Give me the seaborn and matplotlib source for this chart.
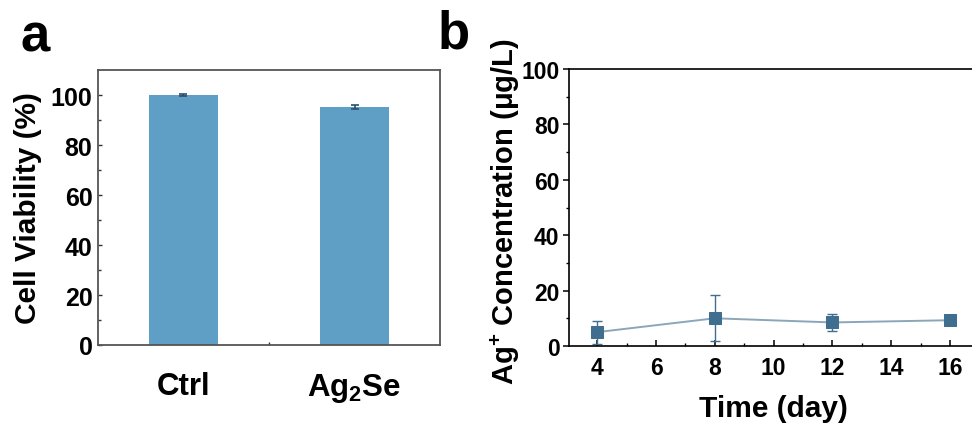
import matplotlib
matplotlib.use("Agg")
import matplotlib.pyplot as plt
import seaborn as sns
import pandas as pd
from matplotlib.ticker import MultipleLocator, FixedLocator

# ---- data ----
groups = ["Ctrl", "Ag$_2$Se"]
viability = [100.0, 95.2]
viability_err = [0.3, 0.8]

days = [4, 8, 12, 16]
ag_conc = [5.0, 10.0, 8.5, 9.3]
ag_err = [4.2, 8.3, 3.0, 0.5]

sns.set_theme(style="white")
plt.rcParams['font.family'] = ['Liberation Sans', 'DejaVu Sans']
plt.rcParams['font.weight'] = 'bold'
plt.rcParams['mathtext.fontset'] = 'custom'
plt.rcParams['mathtext.rm'] = 'Liberation Sans:bold'
plt.rcParams['mathtext.it'] = 'Liberation Sans:bold'
plt.rcParams['mathtext.bf'] = 'Liberation Sans:bold'
for k in ['text.color', 'axes.labelcolor', 'xtick.color', 'ytick.color']:
    plt.rcParams[k] = 'black'

bar_color = "#5f9fc6"
mk_color = "#3f6e8e"
line_color = "#8ca6b9"

fig = plt.figure(figsize=(9.72, 4.27), dpi=100)

# ---- panel a ----
ax1 = fig.add_axes([0.1008, 0.1897, 0.3519, 0.6440])
df_a = pd.DataFrame({"group": groups, "viability": viability})
sns.barplot(data=df_a, x="group", y="viability", color=bar_color, width=0.4,
            saturation=1, errorbar=None, ax=ax1, edgecolor="none")
ax1.errorbar(x=[0, 1], y=viability, yerr=viability_err, fmt="none",
             ecolor="#2c4f6b", elinewidth=1.2, capsize=3, capthick=1.2)
ax1.set_xlim(-0.5, 1.5)
ax1.set_ylim(0, 110)
ax1.yaxis.set_major_locator(FixedLocator([0, 20, 40, 60, 80, 100]))
ax1.yaxis.set_minor_locator(FixedLocator([10, 30, 50, 70, 90]))
ax1.xaxis.set_minor_locator(FixedLocator([0.5]))
for s in ax1.spines.values():
    s.set_visible(True)
    s.set_color("#555555")
    s.set_linewidth(1.3)
ax1.tick_params(axis="both", which="both", direction="in", color="#333333",
                bottom=True, left=True)
ax1.tick_params(axis="y", which="major", length=3, width=1, labelsize=18, pad=4)
ax1.tick_params(axis="y", which="minor", length=2, width=1)
ax1.tick_params(axis="x", which="major", length=3, width=1.2, labelsize=22.5, pad=19)
ax1.tick_params(axis="x", which="minor", length=2, width=1)
ax1.set_xlabel("")
ax1.set_ylabel("Cell Viability (%)", fontsize=21.5, fontweight="bold")
for lab in ax1.get_yticklabels() + ax1.get_xticklabels():
    lab.set_fontweight("bold")
ax1.yaxis.set_label_coords(-0.164, 0.5)

# ---- panel b ----
ax2 = fig.add_axes([0.5857, 0.1874, 0.4203, 0.6486])
df_b = pd.DataFrame({"day": days, "conc": ag_conc})
ax2.errorbar(days, ag_conc, yerr=ag_err, fmt="none", ecolor=mk_color,
             elinewidth=1, capsize=3.5, capthick=1, zorder=2)
sns.lineplot(data=df_b, x="day", y="conc", ax=ax2, color=line_color,
             linewidth=1.4, marker="s", markersize=8.5,
             markerfacecolor=mk_color, markeredgecolor=mk_color, zorder=3)
ax2.set_xlim(3.05, 16.95)
ax2.set_ylim(0, 100)
ax2.xaxis.set_major_locator(MultipleLocator(2))
ax2.xaxis.set_minor_locator(MultipleLocator(1))
ax2.yaxis.set_major_locator(MultipleLocator(20))
ax2.yaxis.set_minor_locator(MultipleLocator(10))
for s in ax2.spines.values():
    s.set_visible(True)
    s.set_color("black")
    s.set_linewidth(1.2)
ax2.tick_params(axis="x", which="both", direction="in", color="black", bottom=True)
ax2.tick_params(axis="x", which="major", length=4, width=1.1, labelsize=16.5, pad=7)
ax2.tick_params(axis="x", which="minor", length=2, width=1)
ax2.tick_params(axis="y", which="both", direction="out", color="black", left=True)
ax2.tick_params(axis="y", which="major", length=4, width=1.1, labelsize=16.5, pad=3)
ax2.tick_params(axis="y", which="minor", length=2.5, width=1)
for lab in ax2.get_yticklabels() + ax2.get_xticklabels():
    lab.set_fontweight("bold")
ax2.set_xlabel("Time (day)", fontsize=21.5, fontweight="bold", labelpad=11)
ax2.set_ylabel("Ag$^{+}$ Concentration (μg/L)", fontsize=21, fontweight="bold")
ax2.yaxis.set_label_coords(-0.115, 0.49)

# ---- panel letters ----
fig.text(0.036, 0.88, "a", fontsize=38, fontweight="bold", ha="center", va="baseline")
fig.text(0.467, 0.887, "b", fontsize=38, fontweight="bold", ha="center", va="baseline")

fig.savefig("out.png", dpi=100)
